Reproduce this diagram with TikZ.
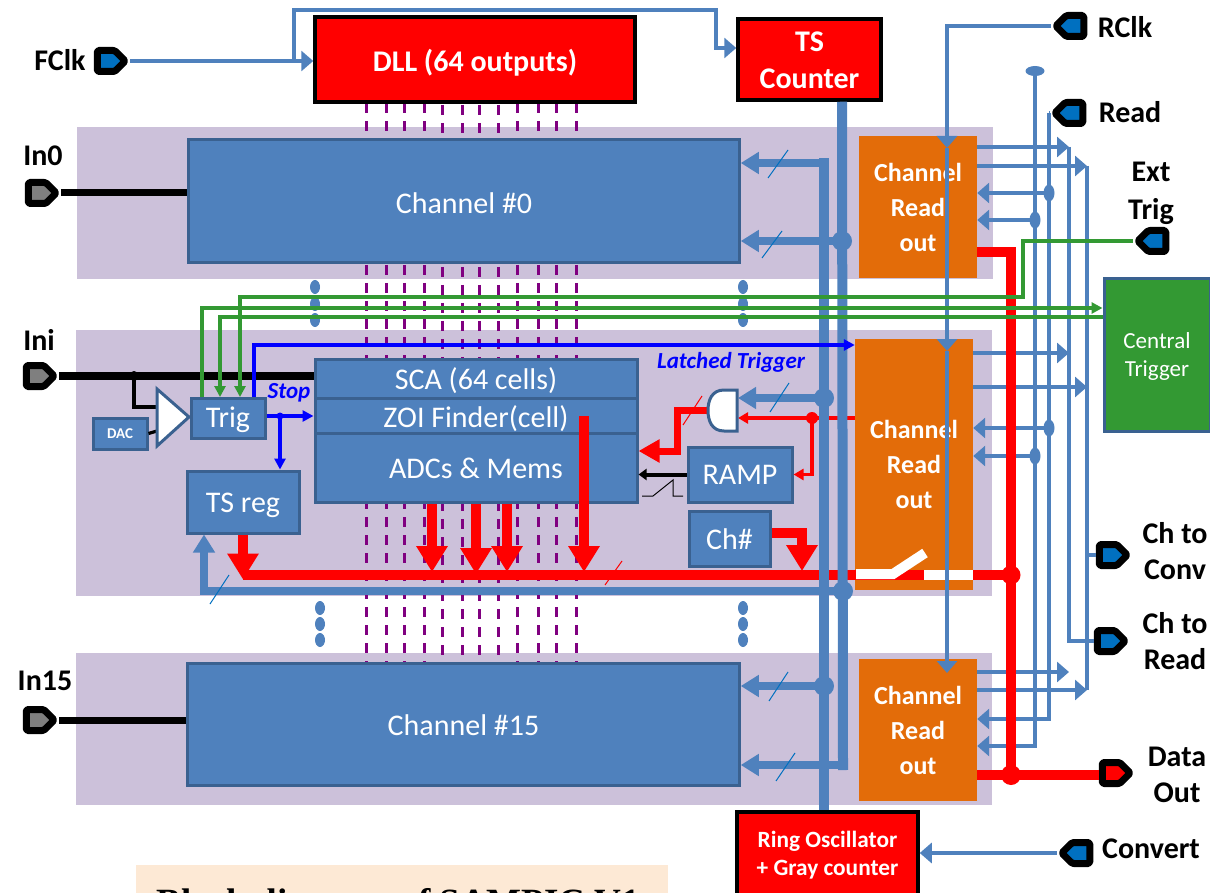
\documentclass[tikz,border=0pt]{standalone}
\usepackage{fontspec}
\setmainfont{Carlito}
\newfontfamily\captionfont{Liberation Serif}
\usetikzlibrary{arrows.meta,positioning,shapes.symbols}
\definecolor{boxblue}{HTML}{4F81BD}
\definecolor{boxedge}{HTML}{3A6190}
\definecolor{panelcol}{HTML}{CCC1DA}
\definecolor{readcol}{HTML}{E36C09}
\definecolor{sigred}{HTML}{FF0000}
\definecolor{siggreen}{HTML}{339933}
\definecolor{sigpurple}{HTML}{800080}
\definecolor{pinblue}{HTML}{0070C0}
\definecolor{pingray}{HTML}{7F7F7F}
\definecolor{capcol}{HTML}{FDE9D5}
\pgfdeclarelayer{panels}
\pgfdeclarelayer{wires}
\pgfsetlayers{panels,wires,main}
\newcommand{\lowtext}[2]{\raisebox{-#1pt}[\height][\depth]{#2}}
\tikzset{
	panel/.style={fill=panelcol,inner sep=0pt},
	blockbox/.style={draw=boxedge,fill=boxblue,line width=3pt,text=white,inner sep=0pt,font=\fontsize{30}{36}\selectfont},
	redbox/.style={draw=black,fill=sigred,line width=4pt,text=white,inner sep=0pt,align=center,font=\fontsize{30}{37}\selectfont\bfseries},
	readbox/.style={fill=readcol,text=white,inner sep=0pt,align=center,minimum width=118pt,font=\fontsize{26}{35}\selectfont\bfseries},
	sigpin/.style={shape=signal,signal from=nowhere,signal to=#1,draw=black,line width=7pt,line join=round,rounded corners=1.5pt,minimum width=28pt,minimum height=21pt,inner sep=0pt},
	pinlabel/.style={align=center,inner sep=0pt,font=\fontsize{30}{36}\selectfont\bfseries},
	dashline/.style={draw=sigpurple,line width=3pt,dash pattern=on 10pt off 8pt},
	wireblue/.style={draw=boxblue,line width=3.6pt},
	tipblue/.style={wireblue,-{Triangle[length=12pt,width=20pt]}},
	busblue/.style={draw=boxblue,line width=8.5pt,-{Triangle[length=18pt,width=21pt]}},
	busvert/.style={draw=boxblue,line width=10pt,line cap=rect},
	wirered/.style={draw=sigred,line width=3.6pt,-{Triangle[length=10pt,width=11pt]}},
	busred/.style={draw=sigred,line width=10pt,-{Triangle[length=26pt,width=30pt]}},
	wiregreen/.style={draw=siggreen,line width=3.4pt},
	tipgreen/.style={wiregreen,-{Triangle[length=11pt,width=11pt]}},
	wirepure/.style={draw=blue,line width=3.2pt,-{Triangle[length=11pt,width=11pt]}},
	slashblue/.style={draw=pinblue,line width=1pt},
	slashred/.style={draw=sigred,line width=1pt},
	wireblack/.style={draw=black,line width=3.2pt},
	bluetext/.style={text=blue,inner sep=0pt,font=\fontsize{23}{27}\selectfont\bfseries\itshape}
}
\begin{document}
\begin{tikzpicture}[x=1pt,y=-1pt]
	\useasboundingbox (0,0) rectangle (1210,893);
	% panels
	\begin{pgfonlayer}{panels}
		\node[panel,minimum width=916pt,minimum height=152pt] (panelzero) at (535,203) {};
		\node[panel,minimum width=916pt,minimum height=266pt] (panelmid) at (534,463) {};
		\node[panel,minimum width=916pt,minimum height=152pt] (panelend) at (534,729) {};
	\end{pgfonlayer}
	% blocks
	\node[redbox,minimum width=319.5pt,minimum height=84.5pt] (dll) at (475,59.5) {\lowtext{3}{DLL (64 outputs)}};
	\node[redbox,minimum width=142.5pt,minimum height=80.5pt] (tscount) at (809.5,59.5) {\lowtext{1}{TS}\\\lowtext{1}{Counter}};
	\node[redbox,minimum width=180.5pt,minimum height=87.5pt,font=\fontsize{23.3}{28}\selectfont\bfseries] (ringosc) at (827.5,855.5) {Ring Oscillator\\+ Gray counter};
	\node[blockbox,minimum width=550.5pt,minimum height=123pt] (chzero) at (464,201.5) {\lowtext{2}{Channel \#0}};
	\node[blockbox,minimum width=551.5pt,minimum height=122pt] (chend) at (463.5,724) {\lowtext{1}{Channel \#15}};
	\node[blockbox,minimum width=322pt,minimum height=39pt] (sca) at (476,378.5) {\lowtext{2}{SCA (64 cells)}};
	\node[blockbox,minimum width=322pt,minimum height=35pt,below=-3pt of sca] (zoi) {\lowtext{3}{ZOI Finder(cell)}};
	\node[blockbox,minimum width=322pt,minimum height=69pt,below=-3pt of zoi] (adc) {\lowtext{1}{ADCs \& Mems}};
	\node[blockbox,minimum width=74pt,minimum height=40pt] (trig) at (228,418) {\lowtext{2}{Trig}};
	\node[blockbox,minimum width=112pt,minimum height=62pt] (tsreg) at (243,502) {\lowtext{3}{TS reg}};
	\node[blockbox,minimum width=54pt,minimum height=31pt,font=\fontsize{15}{18}\selectfont\bfseries] (dac) at (120,433.5) {DAC};
	\node[blockbox,minimum width=104pt,minimum height=55pt] (ramp) at (740,474.5) {RAMP};
	\node[blockbox,minimum width=81pt,minimum height=55pt] (chnum) at (729.5,538.5) {\lowtext{1}{Ch\#}};
	\node[readbox,minimum height=142pt] (readzero) at (918,207) {Channel\\Read\\out};
	\node[readbox,minimum height=251pt] (readmid) at (914,464.5) {Channel\\Read\\out};
	\node[readbox,minimum height=142pt] (readend) at (918,730) {Channel\\Read\\out};
	\node[draw=boxedge,fill=siggreen,line width=3pt,text=white,align=center,inner sep=0pt,minimum width=106pt,minimum height=152pt,font=\fontsize{23}{28}\selectfont] (central) at (1157,355) {\lowtext{1}{Central}\\\lowtext{1}{Trigger}};
	\node[fill=capcol,inner sep=0pt,minimum width=532pt,minimum height=82pt,font=\captionfont\fontsize{37}{44}\selectfont\bfseries] (caption) at (402,906) {Block diagram of SAMPIC V1\hspace*{7pt}};
	% pins
	\node[sigpin=east,fill=pinblue] (pinfclk) at (106,61) {};
	\node[sigpin=east,fill=pingray] (pinzero) at (37,193) {};
	\node[sigpin=east,fill=pingray] (pini) at (35,376) {};
	\node[sigpin=east,fill=pingray] (pinend) at (35,720) {};
	\node[sigpin=west,fill=pinblue] (pinrclk) at (1075,26) {};
	\node[sigpin=west,fill=pinblue] (pinread) at (1074,113) {};
	\node[sigpin=west,fill=pinblue] (pinext) at (1157,241) {};
	\node[sigpin=east,fill=pinblue] (pinconv) at (1108,555) {};
	\node[sigpin=east,fill=pinblue] (pinchread) at (1106,641) {};
	\node[sigpin=east,fill=sigred] (pindata) at (1111,773) {};
	\node[sigpin=west,fill=pinblue] (pinconvert) at (1081,853) {};
	% labels
	\node[pinlabel] (lblfclk) at (60,60) {FClk};
	\node[pinlabel] (lblzero) at (43,156) {In0};
	\node[pinlabel] (lbli) at (39,340) {Ini};
	\node[pinlabel] (lblend) at (45,681) {In15};
	\node[pinlabel] (lblrclk) at (1125,27) {RClk};
	\node[pinlabel] (lblread) at (1130,112) {Read};
	\node[pinlabel,font=\fontsize{30}{38}\selectfont\bfseries] (lblext) at (1151,193) {Ext\\Trig};
	\node[pinlabel] (lblconv) at (1175,551) {Ch to\\Conv};
	\node[pinlabel] (lblchread) at (1175,641) {Ch to\\Read};
	\node[pinlabel] (lbldata) at (1177,775) {Data\\Out};
	\node[pinlabel] (lblconvert) at (1151,849) {Convert};
	\node[bluetext] (lblstop) at (289,393) {Stop};
	\node[bluetext] (lbllatch) at (731,362) {Latched Trigger};
	% junctions
	\coordinate (rbtop) at (824,163);
	\coordinate (rbgate) at (824,398);
	\coordinate (rbend) at (824,686);
	\coordinate (tszero) at (842,241);
	\coordinate (tsfeed) at (843,591);
	\coordinate (tsbot) at (843,765);
	\coordinate (feedleft) at (204,591);
	\coordinate (busstart) at (243,575);
	\coordinate (busjoin) at (1011,575);
	\coordinate (datajoin) at (1011,775);
	\coordinate (redtop) at (1011,252);
	\coordinate (inijoin) at (134,376);
	\coordinate (stopjoin) at (280,416);
	\coordinate (stopup) at (254,345);
	\coordinate (gatein) at (738,398);
	\coordinate (gatered) at (738,418);
	\coordinate (gateout) at (708,410);
	\coordinate (redjoin) at (812,418);
	\coordinate (amptip) at (189,417);
	\coordinate (amptop) at (157,389);
	\coordinate (ampbot) at (157,446);
	\coordinate (clkturn) at (294,61);
	\coordinate (clktop) at (716,10);
	\coordinate (clkts) at (716,48);
	\coordinate (vreadtop) at (1049,113);
	\coordinate (vdot) at (1035,71);
	\coordinate (vchread) at (1069,147);
	\coordinate (vchconv) at (1087,166);
	% the 64 phases
	\begin{pgfonlayer}{wires}
		\foreach \xa/\ya in {366/103,386/103,404/103,424/103,442/105,462/105,479/105,498/105,517/103,538/103,556/103,576/103}
			\draw[dashline] (\xa,\ya) -- (\xa,664);
		\foreach \xa in {315,743} {
			\fill[boxblue] (\xa,287) ellipse (5pt and 7pt);
			\fill[boxblue] (\xa,304) ellipse (5pt and 7pt);
			\fill[boxblue] (\xa,320) ellipse (5pt and 7pt);
		}
		\foreach \xa in {320,743} {
			\fill[boxblue] (\xa,608) ellipse (5pt and 7pt);
			\fill[boxblue] (\xa,624) ellipse (5pt and 7pt);
			\fill[boxblue] (\xa,640) ellipse (5pt and 7pt);
		}
	\end{pgfonlayer}
	% analog inputs
	\draw[black,line width=7pt] (pinzero.east) -- (chzero.west |- pinzero.east);
	\draw[black,line width=8pt] (pini.east) -- (sca.west |- pini.east);
	\draw[black,line width=7pt] (pinend.east) -- (chend.west |- pinend.east);
	\fill[black] (inijoin) circle (5pt);
	\draw[wireblack] (inijoin) |- (157,407);
	\draw[wireblack] (dac.east) -- (157,431);
	\draw[draw=boxedge,fill=white,line width=3pt] (amptop) -- (amptip) -- (ampbot) -- cycle;
	% thin lines on the right
	\draw[tipblue] (readzero.east |- vchread) -- (vchread);
	\draw[tipblue] (readzero.east |- vchconv) -- (vchconv);
	\draw[tipblue] (readmid.east |- 0,353) -- (1069,353);
	\draw[tipblue] (readmid.east |- 0,387) -- (1087,387);
	\draw[tipblue] (readend.east |- 0,672) -- (1069,672);
	\draw[tipblue] (readend.east |- 0,690) -- (1087,690);
	\draw[wireblue] (vchread) |- (pinchread.west);
	\draw[wireblue] (vchconv) -- (vchconv |- 0,690);
	\draw[wireblue] (vchconv |- pinconv) -- (pinconv.west);
	\draw[wireblue] (pinread.west) -- (vreadtop);
	\draw[tipblue] (vreadtop) |- (readend.east |- 0,719);
	\draw[tipblue] (vdot) |- (readend.east |- 0,746);
	\fill[boxblue] (vdot) ellipse (9.5pt and 5pt);
	\draw[tipblue] (vreadtop |- 0,193) -- (readzero.east |- 0,193);
	\draw[tipblue] (vdot |- 0,220) -- (readzero.east |- 0,220);
	\draw[tipblue] (vreadtop |- 0,428) -- (readmid.east |- 0,428);
	\draw[tipblue] (vdot |- 0,456) -- (readmid.east |- 0,456);
	\foreach \ya in {193,428} \fill[boxblue] (1049,\ya) ellipse (5.5pt and 8.5pt);
	\foreach \ya in {220,456} \fill[boxblue] (1035,\ya) ellipse (5.5pt and 8.5pt);
	% data path
	\draw[draw=sigred,line width=10pt] (busstart) -- (busjoin);
	\draw[busred] (tsreg.south -| busstart) -- ++(0,45);
	\draw[busred] (adc.south -| 432,0) -- (432,572);
	\draw[busred] (adc.south -| 476,0) -- (476,574);
	\draw[busred] (adc.south -| 507,0) -- (507,572);
	\draw[busred] (584,416) -- (584,572);
	\draw[busred] (chnum.east |- 0,533) -| (802,571);
	\draw[draw=sigred,line width=10pt] (readzero.east |- redtop) -- (redtop) -- (datajoin);
	\draw[draw=sigred,line width=10pt] (readend.east |- datajoin) -- (pindata.west |- datajoin);
	\fill[sigred] (busjoin) circle (9.5pt);
	\fill[sigred] (datajoin) circle (10pt);
	\draw[wirered] (readmid.west |- redjoin) -- (gatered);
	\fill[sigred] (redjoin) circle (6pt);
	\draw[wirered] (redjoin) |- (ramp.east);
	\draw[draw=sigred,line width=7pt,-{Triangle[length=21pt,width=22pt]}] (gateout) -| (677,451) -- (adc.east |- 0,451);
	\draw[draw=boxedge,fill=white,line width=3pt] (737,390) -- (724,390) .. controls (712,390) and (708,400) .. (708,410.5) .. controls (708,421) and (712,431) .. (724,431) -- (737,431) -- cycle;
	\draw[black,line width=4pt,-{Triangle[length=8pt,width=11pt]}] (ramp.west) -- (adc.east |- ramp.west);
	\draw[black,line width=1pt] (642,496) -- (653,496) -- (673,480) -- (673,496) -- (683,496);
	% clock buses
	\draw[busvert] ([yshift=5pt]ringosc.north -| rbtop) -- (rbtop);
	\draw[busvert] ([yshift=-5pt]tscount.south -| tszero) -- (tsbot);
	\draw[busblue] (rbtop) -- (rbtop -| chzero.east);
	\draw[busblue] (tsbot) -- (tsbot -| chend.east);
	\draw[busblue] (tszero) -- (tszero -| chzero.east);
	\draw[busblue] (rbend) -- (chend.east |- rbend);
	\draw[busblue] (rbgate) -- (gatein);
	\draw[busblue] (tsfeed) -- (feedleft) -- (feedleft |- tsreg.south);
	\foreach \xa/\ya in {tszero,rbend,rbgate,tsfeed} \fill[boxblue] (\xa) circle (10pt);
	\draw[slashblue] (768,178) -- ++(20,-28);
	\draw[slashblue] (762,258) -- ++(20,-27);
	\draw[slashblue] (769,701) -- ++(19,-29);
	\draw[slashblue] (776,781) -- ++(19,-28);
	\draw[slashblue] (770,412) -- ++(19,-29);
	\draw[slashblue] (210,604) -- ++(19,-29);
	\draw[slashred] (605,585) -- ++(17,-24);
	\draw[slashred] (683,425) -- ++(19,-29);
	% switch
	\draw[draw=white,line width=10pt] (856,574) -- (893,574) -- (925,553);
	\draw[draw=white,line width=10pt] (924,575) -- (readmid.east |- 0,575);
	% clocks
	\draw[tipblue] (pinfclk.east) -- (dll.west |- pinfclk.east);
	\draw[tipblue] (clkturn) |- (clktop) -- (clkts) -- (tscount.west |- clkts);
	\draw[tipblue] (pinrclk.west) -| (947,148);
	\draw[tipblue] (947,148) -- (947,351);
	\draw[tipblue] (947,351) -- (947,673);
	\draw[tipblue] (pinconvert.west) -- (ringosc.east |- pinconvert.west);
	% trigger lines
	\draw[wirepure] (stopup |- trig.north) -- (stopup) -- (readmid.west |- stopup);
	\draw[draw=blue,line width=3.2pt] (trig.east |- stopjoin) -- (stopjoin);
	\draw[wirepure] (stopjoin) -- (zoi.west |- stopjoin);
	\draw[wirepure] (stopjoin) -- (stopjoin |- tsreg.north);
	\fill[blue] (stopjoin) circle (3.5pt);
	\draw[tipgreen] (pinext.west) -| (1023,297) -- (240,297) -- (240,397);
	\draw[tipgreen] (202,397) -- (202,308) -- (central.west |- 0,308);
	\draw[tipgreen] (central.west |- 0,317) -- (220,317) -- (220,397);
\end{tikzpicture}
\end{document}
